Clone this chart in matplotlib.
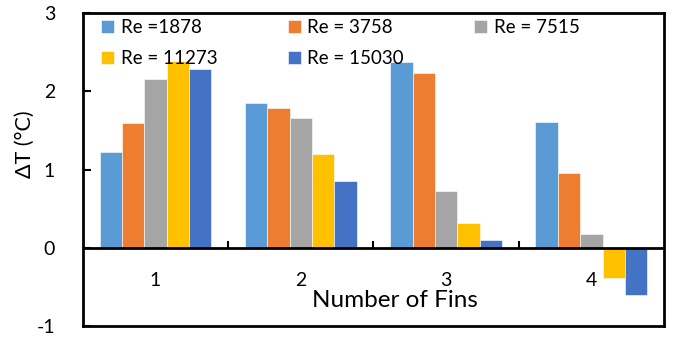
import numpy as np
import matplotlib
matplotlib.use("Agg")
import matplotlib.pyplot as plt

plt.rcParams["font.family"] = ["Lato", "DejaVu Sans"]
plt.rcParams["axes.unicode_minus"] = False

# Temperature difference per fin count, one series per Reynolds number
fins = ["1", "2", "3", "4"]
series_labels = ["Re =1878", "Re = 3758", "Re = 7515", "Re = 11273", "Re = 15030"]
re_1878 = [1.23, 1.85, 2.38, 1.61]
re_3758 = [1.59, 1.78, 2.23, 0.96]
re_7515 = [2.16, 1.66, 0.72, 0.18]
re_11273 = [2.39, 1.20, 0.31, -0.39]
re_15030 = [2.28, 0.85, 0.10, -0.60]
colors = ["#5B9BD5", "#ED7D31", "#A5A5A5", "#FFC000", "#4472C4"]

all_series = [re_1878, re_3758, re_7515, re_11273, re_15030]

fig = plt.figure(figsize=(6.74, 3.38), dpi=100)
ax = fig.add_axes([0.1231, 0.0355, 0.8620, 0.9260])

x = np.arange(1, len(fins) + 1)
n = len(all_series)
group = n / (n + 1.5)          # gap width 150 %
width = group / n
handles = []
for i, (vals, c) in enumerate(zip(all_series, colors)):
    pos = x - group / 2 + width * (i + 0.5)
    b = ax.bar(pos, vals, width, color=c, edgecolor="white", linewidth=0.4,
               label=series_labels[i], zorder=2)
    handles.append(b)

ax.set_xlim(0.5, len(fins) + 0.5)
ax.set_ylim(-1, 3)
ax.set_yticks([-1, 0, 1, 2, 3])
ax.tick_params(axis="y", direction="in", length=6, width=1.5, pad=20, labelsize=14)
ax.set_xticks([])
for s in ax.spines.values():
    s.set_linewidth(2)
    s.set_color("black")

# horizontal axis at zero with category separators
ax.axhline(0, color="black", lw=2, zorder=3)
ax.vlines(x[:-1] + 0.5, 0, 0.08, color="black", lw=1.5, zorder=3)
for xi, lab in zip(x, fins):
    ax.text(xi, -0.42, lab, ha="center", va="center", fontsize=14)

ax.text(2.65, -0.68, "Number of Fins", ha="center", va="center", fontsize=17.5)
ax.set_ylabel("ΔT (°C)", fontsize=15.5)
ax.yaxis.set_label_coords(-0.083, 0.58)

order = [0, 3, 1, 4, 2]
ax.legend([handles[i] for i in order], [series_labels[i] for i in order],
          ncol=3, loc="upper left", bbox_to_anchor=(0.018, 1.005), frameon=False,
          fontsize=13.5, handlelength=0.7, handleheight=0.7, handletextpad=0.35,
          columnspacing=3.75, labelspacing=0.75, borderaxespad=0)

fig.savefig("out.png", dpi=100)
